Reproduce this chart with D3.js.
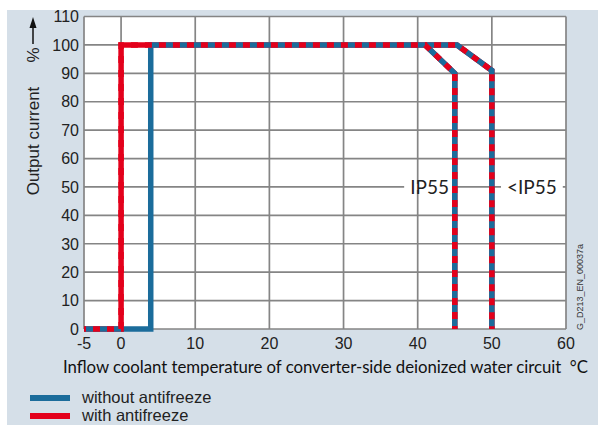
<!DOCTYPE html>
<html><head><meta charset="utf-8">
<script src="https://cdn.jsdelivr.net/npm/d3@7"></script>
<style>body{margin:0;background:#fff}svg{display:block}</style>
</head><body>
<svg id="c" width="598" height="425"></svg>
<script>
// ---- data ----
const xTicks = [-5, 0, 10, 20, 30, 40, 50, 60];
const yTicks = [0, 10, 20, 30, 40, 50, 60, 70, 80, 90, 100, 110];
// without antifreeze (blue)
const blueIP55 = [[-5,0],[4,0],[4,100],[41,100],[45,90],[45,0]];
const blueLtIP55 = [[41,100],[45.3,100],[50,91],[50,0]];
// with antifreeze (red)
const redIP55 = [[-5,0],[0,0],[0,100],[41,100],[45,90],[45,0]];
const redLtIP55 = [[41,100],[45.3,100],[50,91],[50,0]];
const protLabels = [{t:"IP55", x:41.6, y:50}, {t:"<IP55", x:55.4, y:50}];
const legendItems = [{t:"without antifreeze", c:"#1b6c9b"}, {t:"with antifreeze", c:"#e3001b"}];

const BLUE = "#1b6c9b", RED = "#e3001b", GRID = "#858585";
const svg = d3.select("#c");
svg.append("rect").attr("x",7).attr("y",10).attr("width",591).attr("height",415).attr("fill","#d5dfe8");

const x = d3.scaleLinear().domain([-5,60]).range([84,566]);
const y = d3.scaleLinear().domain([0,110]).range([329,16.5]);

svg.append("rect").attr("x",x(-5)).attr("y",y(110)).attr("width",x(60)-x(-5)).attr("height",y(0)-y(110)).attr("fill","#fff");

// grid
const g = svg.append("g");
g.selectAll("line.h").data(yTicks).join("line")
  .attr("x1",x(-5)).attr("x2",x(60)).attr("y1",d=>y(d)).attr("y2",d=>y(d))
  .attr("stroke",GRID).attr("stroke-width",1.7);
g.selectAll("line.v").data(xTicks).join("line")
  .attr("y1",y(0)).attr("y2",y(110)).attr("x1",d=>x(d)).attr("x2",d=>x(d))
  .attr("stroke",GRID).attr("stroke-width",1.7);

// tick labels
svg.selectAll("text.yt").data(yTicks).join("text")
  .attr("x",79).attr("y",d=>y(d)).attr("dy","0.36em").attr("text-anchor","end")
  .attr("font-family","Liberation Sans, Arial, sans-serif").attr("font-size",16).attr("fill","#222")
  .text(d=>d);
svg.selectAll("text.xt").data(xTicks).join("text")
  .attr("x",d=>x(d)).attr("y",349).attr("text-anchor","middle")
  .attr("font-family","Liberation Sans, Arial, sans-serif").attr("font-size",16).attr("fill","#222")
  .text(d=>d);

// protection labels with white knockout
protLabels.forEach(p=>{
  const t = svg.append("text").attr("x",x(p.x)).attr("y",y(p.y)).attr("dy","0.35em")
    .attr("text-anchor","middle").attr("font-family","Lato, sans-serif").attr("font-size",19).attr("fill","#222").text(p.t);
  const bb = t.node().getBBox();
  svg.insert("rect", () => t.node()).attr("x",bb.x-6).attr("y",y(p.y)-3).attr("width",bb.width+12).attr("height",6).attr("fill","#fff");
});

// lines
const line = d3.line().x(d=>x(d[0])).y(d=>y(d[1])).curve(d3.curveLinear);
const lw = 5.5;
[redIP55, redLtIP55].forEach(d=>svg.append("path").attr("d",line(d)).attr("fill","none").attr("stroke",RED).attr("stroke-width",lw).attr("stroke-linejoin","miter"));
[blueIP55, blueLtIP55].forEach(d=>svg.append("path").attr("d",line(d)).attr("fill","none").attr("stroke",BLUE).attr("stroke-width",lw).attr("stroke-linejoin","miter"));
[redIP55, redLtIP55].forEach(d=>svg.append("path").attr("d",line(d)).attr("fill","none").attr("stroke",RED).attr("stroke-width",lw).attr("stroke-dasharray","7,7").attr("stroke-dashoffset",-9));

// y axis label
svg.append("text").attr("transform","translate(39,141) rotate(-90)").attr("text-anchor","middle")
  .attr("font-family","Liberation Sans, Arial, sans-serif").attr("font-size",17).attr("fill","#222").text("Output current");
svg.append("text").attr("transform","translate(39,55) rotate(-90)").attr("text-anchor","middle")
  .attr("font-family","Liberation Sans, Arial, sans-serif").attr("font-size",17).attr("fill","#222").text("%");
// arrow
svg.append("line").attr("x1",33).attr("x2",33).attr("y1",44).attr("y2",26).attr("stroke","#111").attr("stroke-width",1.5);
svg.append("path").attr("d","M33,17 L29.5,28 L36.5,28 Z").attr("fill","#111");

// x axis title
svg.append("text").attr("x",63).attr("y",373).attr("font-family","Lato, sans-serif").attr("font-size",16.8).attr("fill","#111")
  .attr("textLength",525).attr("lengthAdjust","spacing")
  .text("Inflow coolant temperature of converter-side deionized water circuit\u00a0\u00a0°C");

// watermark
svg.append("text").attr("transform","translate(583,330) rotate(-90)").attr("font-family","Liberation Sans, Arial, sans-serif")
  .attr("font-size",9).attr("fill","#333").text("G_D213_EN_00037a");

// legend
const lg = svg.selectAll("g.lg").data(legendItems).join("g").attr("transform",(d,i)=>`translate(0,${398+i*18})`);
lg.append("line").attr("x1",30).attr("x2",70).attr("y1",0).attr("y2",0).attr("stroke",d=>d.c).attr("stroke-width",6);
lg.append("text").attr("x",82).attr("y",5).attr("font-family","Liberation Sans, Arial, sans-serif").attr("font-size",16.5).attr("fill","#222").text(d=>d.t);
</script>
</body></html>
